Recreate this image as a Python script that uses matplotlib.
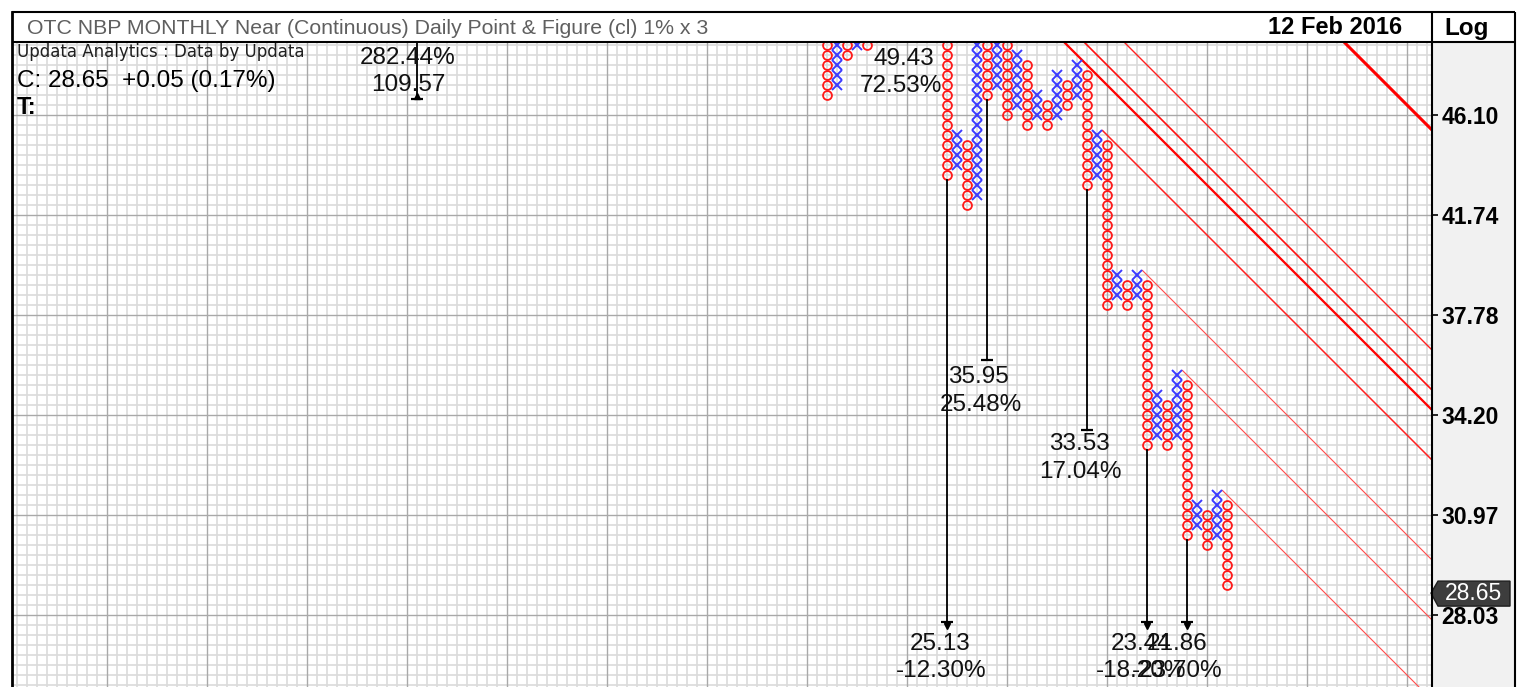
import numpy as np
import matplotlib
matplotlib.use("Agg")
import matplotlib.pyplot as plt
from matplotlib.patches import Polygon

W, H = 1520, 687
BOX = 1.01  # 1% box, 3 box reversal; box n sits at price 1.01**n

# ---------------- data ----------------
col_index = [82, 83, 84, 85, 86, 94, 95, 96, 97, 98, 99, 100, 101, 102, 103, 104,
             105, 106, 107, 108, 109, 110, 111, 112, 113, 114, 115, 116, 117, 118,
             119, 120, 121, 122]
col_type = ["O", "X", "O", "X", "O", "O", "X", "O", "X", "O", "X", "O", "X", "O", "X", "O",
            "X", "O", "X", "O", "X", "O", "X", "O", "X", "O", "X", "O", "X", "O",
            "X", "O", "X", "O"]
col_low = [387, 388, 391, 392, 392, 379, 380, 376, 377, 387, 388, 385, 386, 384, 385, 384,
           385, 386, 387, 378, 379, 366, 367, 366, 367, 352, 353, 352, 353, 343,
           344, 342, 343, 338]
col_high = [396, 396, 395, 396, 395, 396, 383, 382, 396, 395, 396, 395, 391, 390, 387, 386,
            389, 388, 390, 389, 383, 382, 369, 368, 369, 368, 357, 356, 359, 358,
            346, 345, 347, 346]

tick_boxes = [335, 345, 355, 365, 375, 385]
tick_labels = ["28.03", "30.97", "34.20", "37.78", "41.74", "46.10"]

# 45 degree trend lines: box + column = constant
trend_const = [469, 477, 483, 493, 498, 500, 504, 526]
trend_start = [121.5, 117.5, 113.5, 109.5, 103.0, 105.0, 109.0, 131.0]
trend_width = [0.8, 0.8, 0.8, 1.1, 1.6, 1.2, 1.0, 2.2]
trend_color = ["#ff4a4a", "#ff4a4a", "#ff4a4a", "#ff2020", "#ff0000", "#ff1010", "#ff2020", "#ff0000"]

# vertical count projections
count_col = [41, 94, 98, 108, 114, 118]
count_from = [392.5, 378.5, 386.5, 377.5, 351.5, 342.5]
count_to = [386.6, 334.3, 360.5, 353.5, 334.3, 334.3]
count_kind = ["up", "down", "bar", "bar", "down", "down"]
count_price = ["109.57", "25.13", "35.95", "33.53", "23.44", "21.86"]
count_pct = ["282.44%", "-12.30%", "25.48%", "17.04%", "-18.20%", "-23.70%"]
extra_price, extra_pct = "49.43", "72.53%"

last_close = "28.65"
last_close_box = 337.19
title = "OTC NBP MONTHLY Near (Continuous) Daily Point & Figure (cl) 1% x 3"
date_text = "12 Feb 2016"
info1 = "Updata Analytics : Data by Updata"
info2 = "C: 28.65  +0.05 (0.17%)"
info3 = "T:"

# ---------------- helpers ----------------
def px2col(x):
    return (x - 7) / 10.0

def px2box(y):
    return 385 - (y - 115) / 10.0

FONT = ["Liberation Sans", "DejaVu Sans"]
plt.rcParams["font.family"] = FONT

fig = plt.figure(figsize=(W / 100, H / 100), dpi=100)
fig.patch.set_facecolor("white")

# background axes (pixel coordinates) for panel + header
bg = fig.add_axes([0, 0, 1, 1], zorder=0)
bg.set_xlim(0, W)
bg.set_ylim(H, 0)
bg.axis("off")
bg.add_patch(plt.Rectangle((1432, 42), 83, H - 42, facecolor="#f1f1f1", edgecolor="none"))

# main chart axes
ax = fig.add_axes([12 / W, 0, (1432 - 12) / W, (H - 42) / H], zorder=1)
ax.set_facecolor("white")
ax.set_yscale("log")
n_bot, n_top = px2box(H), px2box(42)
ax.set_xlim(px2col(12), px2col(1432))
ax.set_ylim(BOX ** n_bot, BOX ** n_top)
for s in ax.spines.values():
    s.set_visible(False)

# grid
for c in range(0, 144):
    heavy = c % 10 == 0
    ax.axvline(c, color="#a9a9a9" if heavy else "#dadada", lw=1.0 if heavy else 1.2,
               zorder=0.5 if heavy else 0.4)
for n in range(int(n_bot) - 1, int(n_top) + 2):
    heavy = n % 10 == 5
    ax.axhline(BOX ** n, color="#a9a9a9" if heavy else "#dadada", lw=1.0 if heavy else 1.2,
               zorder=0.5 if heavy else 0.4)

# trend lines
for S, c0, lw, colr in zip(trend_const, trend_start, trend_width, trend_color):
    cs = np.array([c0, 145.0])
    ax.plot(cs, BOX ** (S - cs), color=colr, lw=lw, zorder=2, solid_capstyle="butt")

# X and O columns
for ci, t, lo, hi in zip(col_index, col_type, col_low, col_high):
    ns = np.arange(lo, hi + 1)
    ys = BOX ** ns
    xs = np.full(len(ns), ci)
    if t == "O":
        ax.plot(xs, ys, ls="none", marker="o", ms=6.4, mfc="none", mec="#ff1a1a", mew=1.3, zorder=3)
    else:
        ax.plot(xs, ys, ls="none", marker="x", ms=7.0, mec="#3a3aff", mew=1.4, zorder=3)

# vertical counts
for c, a, b, kind in zip(count_col, count_from, count_to, count_kind):
    ax.plot([c, c], [BOX ** a, BOX ** b], color="black", lw=1.3, zorder=4)
    if kind == "down":
        ax.plot([c], [BOX ** b], marker="_", ms=9, mew=1.6, color="black", zorder=4)
        ax.plot([c], [BOX ** (b - 0.35)], marker="v", ms=4.5, color="black", zorder=4)
    elif kind == "up":
        ax.plot([c], [BOX ** (b + 0.3)], marker="^", ms=4.5, color="black", zorder=4)
        ax.plot([c], [BOX ** b], marker="_", ms=9, mew=1.6, color="black", zorder=4)
    else:
        ax.plot([c], [BOX ** b], marker="_", ms=9, mew=1.6, color="black", zorder=4)

label_px = [((408, 85), (408, 58)), ((940, 644), (941, 671)), ((978, 377), (981, 405)),
            ((1079, 444), (1080, 472)), ((1141, 644), (1141, 671)), ((1177, 644), (1177, 671))]
LBL = 17.5
for (pp, qp), ptxt, qtxt in zip(label_px, count_price, count_pct):
    ax.text(px2col(pp[0]), BOX ** px2box(pp[1]), ptxt, ha="center", va="center",
            fontsize=LBL, color="#111111", zorder=5)
    ax.text(px2col(qp[0]), BOX ** px2box(qp[1]), qtxt, ha="center", va="center",
            fontsize=LBL, color="#111111", zorder=5)
ax.text(px2col(904), BOX ** px2box(59), extra_price, ha="center", va="center",
        fontsize=LBL, color="#111111", zorder=5)
ax.text(px2col(901), BOX ** px2box(86), extra_pct, ha="center", va="center",
        fontsize=LBL, color="#111111", zorder=5)

# right price axis
ax.yaxis.tick_right()
ax.set_yticks([BOX ** n for n in tick_boxes])
ax.set_yticklabels(tick_labels)
ax.yaxis.set_minor_locator(matplotlib.ticker.NullLocator())
ax.tick_params(axis="y", which="major", direction="out", length=4, width=1.2, pad=3,
               labelsize=16.5, colors="black")
for lab in ax.get_yticklabels():
    lab.set_fontweight("bold")
ax.set_xticks([])

# overlay for frame, header and price tag
ov = fig.add_axes([0, 0, 1, 1], zorder=3)
ov.set_xlim(0, W)
ov.set_ylim(H, 0)
ov.axis("off")
ov.patch.set_alpha(0)
k = dict(color="black", lw=1.5, solid_capstyle="butt")
ov.plot([12, 1515], [12, 12], **k)
ov.plot([12, 1515], [42, 42], **k)
ov.plot([12, 12], [12, H], color="black", lw=2.0)
ov.plot([1515, 1515], [12, H], **k)
ov.plot([1432, 1432], [12, H], **k)

ov.text(27, 28, title, ha="left", va="center", fontsize=15.3, color="#5f5f5f")
ov.text(1402, 28, date_text, ha="right", va="center", fontsize=17, fontweight="bold", color="black")
ov.text(1467, 29, "Log", ha="center", va="center", fontsize=17.5, fontweight="bold", color="black")
ov.text(17, 52, info1, ha="left", va="center", fontsize=12, color="#202020", family=["DejaVu Sans"])
ov.text(17, 81, info2, ha="left", va="center", fontsize=17.5, color="black")
ov.text(17, 108, info3, ha="left", va="center", fontsize=17, fontweight="bold", color="black")

# last price tag
yt = 115 + (385 - last_close_box) * 10
tag = Polygon([(1431, yt), (1438, yt - 12), (1510, yt - 12), (1510, yt + 13), (1438, yt + 13)],
              closed=True, facecolor="#3d3d3d", edgecolor="#1e1e1e", lw=1)
ov.add_patch(tag)
ov.text(1474, yt + 0.5, last_close, ha="center", va="center", fontsize=16.5, color="white")

fig.savefig("out.png", dpi=100, facecolor="white")
